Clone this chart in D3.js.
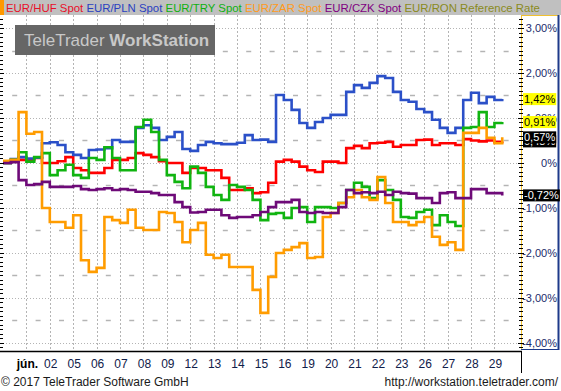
<!DOCTYPE html>
<html>
<head>
<meta charset="utf-8">
<script src="https://cdn.jsdelivr.net/npm/d3@7"></script>
<style>
  body { margin: 0; background: #fff; }
  svg text { font-family: Arial, "Liberation Sans", sans-serif; }
</style>
</head>
<body>
<div id="chart"></div>
<script>

  // series, in legend order
  var series_names  = ['EUR/HUF Spot', 'EUR/PLN Spot', 'EUR/TRY Spot', 'EUR/ZAR Spot', 'EUR/CZK Spot', 'EUR/RON Reference Rate'];
  var series_colors = ['#ff0000', '#2b50c8', '#10b410', '#ff9c00', '#6e0a78', '#8c8c1e'];
  var legend_colors = ['#e8102a', '#2a40c0', '#10b010', '#ff9a20', '#800080', '#8a8a20'];
  var label_fills   = ['#000000', '#ffff00', '#ffff00', '#000000', '#000000'];

  // trading days shown on the time axis (day 0 = 31 May)
  var day_labels = ['jún.', '02', '05', '06', '07', '08', '09', '12', '13', '14', '15',
                    '16', '19', '20', '21', '22', '23', '26', '27', '28', '29'];

  var y_labels = [3, 2, 1, 0, -1, -2, -3, -4];

  // % change, sampled three times a trading day
  var huf = [0, 0.03, 0.07, 0.07, 0.11, 0.00, 0.00, 0.04, 0.13, -0.11, -0.16, -0.22, -0.22, -0.11, 0.07, 0.07, 0.11, 0.22, 0.18, 0.13, 0.04, 0.00, 0.00, -0.22, -0.11,
             -0.11, -0.16, -0.16, -0.33, -0.60, -0.60, -0.56, -0.67, -0.65, -0.44, 0.03, 0.07, 0.03, -0.08, -0.16, -0.20, 0.03, 0.03, 0.00, 0.33, 0.38,
             0.33, 0.44, 0.45, 0.47, 0.36, 0.40, 0.40, 0.51, 0.52, 0.40, 0.44, 0.44, 0.40, 0.53, 0.50, 0.48, 0.50, 0.47, 0.48];

  var pln = [0, 0.09, 0.13, 0.10, 0.12, 0.44, 0.46, 0.40, 0.24, 0.18, 0.11, 0.29, 0.30, 0.33, 0.51, 0.47, 0.47, 0.78, 0.84, 0.78, 0.51, 0.58, 0.69, 0.31, 0.27,
             0.40, 0.47, 0.44, 0.42, 0.42, 0.45, 0.62, 0.51, 0.52, 0.47, 1.51, 1.40, 1.18, 0.89, 0.78, 0.91, 1.00, 1.07, 1.07, 1.58, 1.73,
             1.67, 1.78, 1.93, 1.89, 1.58, 1.40, 1.36, 1.20, 1.13, 0.96, 0.78, 0.67, 0.78, 1.40, 1.56, 1.33, 1.47, 1.40, 1.42];

  var try_ = [0, 0.07, 0.24, 0.03, 0.13, 0.22, -0.27, -0.16, -0.04, -0.27, -0.33, 0.11, 0.07, 0.35, 0.11, -0.16, -0.16, 0.80, 0.96, 0.69, 0.07, -0.27, -0.42, -0.56, -0.08, -0.22,
              -0.53, -0.71, -0.82, -0.49, -0.53, -0.60, -0.82, -1.27, -1.13, -1.11, -1.22, -1.00, -0.98, -1.31, -0.98, -0.98, -1.00, -0.89, -0.60, -0.44,
              -0.53, -0.78, -0.38, -0.60, -0.82, -1.20, -1.22, -1.09, -1.04, -1.38, -1.16, -1.31, -1.40, 0.78, 0.80, 1.13, 0.80, 0.89, 0.91];

  var zar = [0.05, 0.07, 1.13, 0.65, 0.69, -1.00, -1.31, -1.31, -1.44, -1.16, -2.16, -2.42, -2.33, -1.20, -1.27, -1.33, -1.04, -1.44, -1.49, -1.49, -1.09, -1.11,
             -1.31, -1.76, -1.49, -1.33, -2.04, -2.11, -2.04, -2.31, -2.31, -2.31, -2.82, -3.33, -2.53, -2.00,
             -1.93, -1.87, -1.78, -2.11, -2.09, -1.20, -1.11, -0.89, -0.76, -0.60, -0.76, -0.82, -0.31, -0.89, -1.31, -1.31, -1.38, -1.31, -1.20,
             -1.64, -1.82, -1.76, -1.93, 0.67, 0.67, 0.78, 0.56, 0.44, 0.57];

  var czk = [0, 0.02, -0.38, -0.49, -0.47, -0.42, -0.53, -0.53, -0.53, -0.51, -0.58, -0.60, -0.58, -0.56, -0.60, -0.58, -0.60, -0.64, -0.64, -0.67, -0.71, -0.71,
             -0.87, -0.98, -1.10, -1.09, -1.04, -1.04, -1.16, -1.22, -1.20, -1.20, -1.16, -1.09, -0.98, -0.87,
             -0.87, -0.82, -1.09, -1.11, -1.09, -1.11, -1.11, -0.98, -0.60, -0.67, -0.65, -0.67, -0.64, -0.71, -0.64, -0.67, -0.68, -0.78, -0.78,
             -0.89, -0.67, -0.65, -0.78, -0.78, -0.58, -0.58, -0.67, -0.67, -0.72];

  var all_series = [huf, pln, try_, zar, czk];
  var per_day = 3;

  var chart = {

    init: function(){

      this.svg = d3.select('#chart')
                   .append('svg')
                   .attr('width', 561)
                   .attr('height', 391)
                   .style('background-color', 'white');

      this.x = d3.scaleLinear().domain([0, 22.05]).range([3, 519]);
      this.y = d3.scaleLinear().domain([-4.1556, 3.2889]).range([350, 15]);

      this.grid();
      this.watermark();
      this.lines();
      this.right_axis();
      this.bottom_axis();
      this.legend();
    },

    grid: function(){
      var x = this.x, y = this.y, svg = this.svg;

      svg.append('g').selectAll('line')
         .data(day_labels)
         .enter().append('line')
         .attr('x1', function(d, i){ return Math.round(x(i + 1)) + 0.5; })
         .attr('x2', function(d, i){ return Math.round(x(i + 1)) + 0.5; })
         .attr('y1', 15).attr('y2', 350)
         .style('stroke', '#b4b4b4')
         .style('stroke-dasharray', '2,2');

      svg.append('g').selectAll('line')
         .data(y_labels)
         .enter().append('line')
         .attr('x1', 3).attr('x2', 519)
         .attr('y1', function(d){ return Math.round(y(d)) + 0.5; })
         .attr('y2', function(d){ return Math.round(y(d)) + 0.5; })
         .style('stroke', '#b4b4b4')
         .style('stroke-dasharray', '1,2');

      // short dashes on the half-percent levels, between day lines
      var halves = [2.5, 1.5, 0.5, -0.5, -1.5, -2.5, -3.5];
      var mids = d3.range(0, 22).map(function(i){ return i + 0.5; });
      svg.append('g').selectAll('g')
         .data(halves)
         .enter().append('g')
         .selectAll('line')
         .data(function(h){ return mids.map(function(m){ return {h: h, m: m}; }); })
         .enter().append('line')
         .attr('x1', function(d){ return x(d.m) - 2.5; })
         .attr('x2', function(d){ return x(d.m) + 2.5; })
         .attr('y1', function(d){ return Math.round(y(d.h)) + 0.5; })
         .attr('y2', function(d){ return Math.round(y(d.h)) + 0.5; })
         .style('stroke', '#b4b4b4')
         .style('stroke-width', 1.5);
    },

    watermark: function(){
      this.svg.append('rect')
          .attr('x', 15).attr('y', 25)
          .attr('width', 200).attr('height', 30)
          .style('fill', '#666666');
      var t = this.svg.append('text')
          .attr('x', 24).attr('y', 46)
          .style('font-size', '17px')
          .style('fill', '#c8c8c8');
      t.append('tspan').text('TeleTrader ');
      t.append('tspan').style('font-weight', 'bold').text('WorkStation');
    },

    lines: function(){
      var x = this.x, y = this.y;
      var line = d3.line()
                   .x(function(d, i){ return x(i / per_day); })
                   .y(function(d){ return y(d); })
                   .curve(d3.curveStepAfter);

      this.svg.append('g').selectAll('path')
          .data(all_series)
          .enter().append('path')
          .attr('d', line)
          .style('fill', 'none')
          .style('stroke', function(d, i){ return series_colors[i]; })
          .style('stroke-width', 2.6);
    },

    right_axis: function(){
      var y = this.y, svg = this.svg;

      svg.append('line').attr('x1', 521.5).attr('x2', 521.5).attr('y1', 15).attr('y2', 350)
         .style('stroke', '#f0c030');
      svg.append('line').attr('x1', 521).attr('x2', 559).attr('y1', 15.5).attr('y2', 15.5)
         .style('stroke', '#f0c030');
      svg.append('line').attr('x1', 558.5).attr('x2', 558.5).attr('y1', 15).attr('y2', 350)
         .style('stroke', '#1e3a8a').style('stroke-width', 2);
      svg.append('line').attr('x1', 521).attr('x2', 559).attr('y1', 349.5).attr('y2', 349.5)
         .style('stroke', '#1e3a8a');

      var minor = d3.range(-41, 33);
      svg.append('g').selectAll('line')
         .data(minor)
         .enter().append('line')
         .attr('x1', function(d){ return d % 10 === 0 ? 518 : 519; })
         .attr('x2', function(d){ return d % 10 === 0 ? 524 : 523; })
         .attr('y1', function(d){ return Math.round(y(d / 10)) + 0.5; })
         .attr('y2', function(d){ return Math.round(y(d / 10)) + 0.5; })
         .style('stroke', '#000');
      svg.append('g').selectAll('line')
         .data(minor)
         .enter().append('line')
         .attr('x1', 0)
         .attr('x2', function(d){ return d % 10 === 0 ? 4 : 3; })
         .attr('y1', function(d){ return Math.round(y(d / 10)) + 0.5; })
         .attr('y2', function(d){ return Math.round(y(d / 10)) + 0.5; })
         .style('stroke', '#000');

      svg.append('g').selectAll('text')
         .data(y_labels)
         .enter().append('text')
         .attr('x', 557)
         .attr('y', function(d){ return y(d) + 4; })
         .attr('text-anchor', 'end')
         .style('font-size', '11px')
         .style('fill', '#1a2a6a')
         .text(function(d){ return d === 0 ? '0%' : d.toFixed(2).replace('.', ',') + '%'; });

      // last values
      var last = all_series.map(function(s, i){ return {v: s[s.length - 1], i: i}; });
      var g = svg.append('g').selectAll('g')
         .data(last)
         .enter().append('g');
      g.append('text')
         .attr('x', 524)
         .attr('y', function(d){ return y(d.v) + 4; })
         .style('font-size', '11px')
         .style('fill', function(d){ return label_fills[d.i] === '#000000' ? '#fff' : '#000'; })
         .text(function(d){ return d.v.toFixed(2).replace('.', ',') + '%'; });
      g.insert('rect', 'text')
         .attr('x', 523)
         .attr('y', function(d){ return y(d.v) - 6; })
         .attr('width', function(){ return this.parentNode.querySelector('text').getComputedTextLength() + 2; })
         .attr('height', 12)
         .style('fill', function(d){ return label_fills[d.i]; });
    },

    bottom_axis: function(){
      var x = this.x, svg = this.svg;

      svg.append('line').attr('x1', 0).attr('x2', 522).attr('y1', 351.5).attr('y2', 351.5)
         .style('stroke', '#000').style('stroke-width', 1.5);
      svg.append('line').attr('x1', 521.5).attr('x2', 521.5).attr('y1', 351).attr('y2', 373)
         .style('stroke', '#000');

      svg.append('g').selectAll('text')
         .data(day_labels)
         .enter().append('text')
         .attr('x', function(d, i){ return x(i + 1) + 1; })
         .attr('y', 368)
         .attr('text-anchor', 'middle')
         .style('font-size', '12px')
         .style('font-weight', function(d, i){ return i === 0 ? 'bold' : 'normal'; })
         .style('fill', function(d, i){ return i === 0 ? '#000' : '#10204a'; })
         .text(function(d){ return d; });

      svg.append('text').attr('x', 1).attr('y', 386)
         .style('font-size', '12px').style('fill', '#1a1a1a')
         .text('\u00a9 2017 TeleTrader Software GmbH');
      svg.append('text').attr('x', 558).attr('y', 386)
         .attr('text-anchor', 'end')
         .style('font-size', '12px').style('fill', '#1a1a1a')
         .text('http://workstation.teletrader.com/');
    },

    legend: function(){
      this.svg.append('rect')
          .attr('x', 0).attr('y', 0).attr('width', 561).attr('height', 15)
          .style('fill', '#c0c0c0');
      this.svg.append('rect')
          .attr('x', 0).attr('y', 0).attr('width', 4).attr('height', 15)
          .style('fill', '#ff9900');
      var t = this.svg.append('text')
          .attr('x', 6).attr('y', 12)
          .style('font-size', '11.4px');
      t.selectAll('tspan')
       .data(series_names)
       .enter().append('tspan')
       .style('fill', function(d, i){ return legend_colors[i]; })
       .text(function(d, i){ return (i ? ' ' : '') + d; });
    }
  };

  chart.init();

</script>
</body>
</html>
